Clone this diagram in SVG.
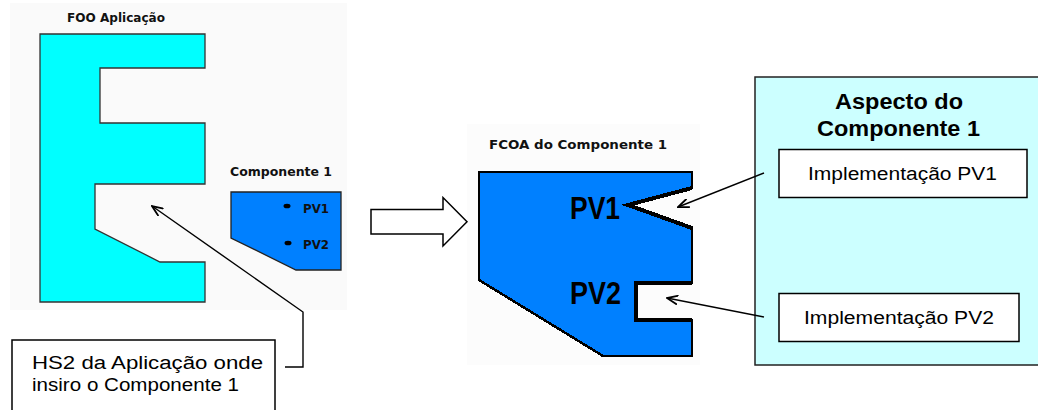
<svg xmlns="http://www.w3.org/2000/svg" width="1038" height="410" viewBox="0 0 1038 410">
<style>
.lbl{font-family:"DejaVu Sans",Verdana,sans-serif;font-weight:bold;font-size:12px;fill:#111}
.txt{font-family:"Liberation Sans",Arial,sans-serif;font-size:18px;fill:#000}
.bt{font-family:"Liberation Sans",Arial,sans-serif;font-size:22px;font-weight:bold;fill:#000}
.big{font-family:"Liberation Sans",Arial,sans-serif;font-size:31px;font-weight:bold;fill:#000}
.conn{fill:none;stroke:#000;stroke-width:1.4}
</style>
<defs>
<marker id="ah" viewBox="0 0 12 10" refX="11" refY="5" markerWidth="12" markerHeight="10" markerUnits="userSpaceOnUse" orient="auto">
<path d="M0,0.5 L11,5 L0,9.5" fill="none" stroke="#000" stroke-width="1.8"/>
</marker>
</defs>
<rect width="1038" height="410" fill="#fff"/>
<rect x="10" y="3" width="337" height="307" fill="#fafafa"/>
<rect x="467" y="124" width="233" height="241" fill="#fcfcfc"/>

<g id="foo-app">
<text class="lbl" x="67" y="22" textLength="98" lengthAdjust="spacingAndGlyphs">FOO Aplicação</text>
<polygon points="40,34 205,34 205,68 100,68 100,123 205,123 205,184 95,184 95,229 160,262 205,262 205,302 40,302" fill="#00ffff" stroke="#333" stroke-width="1.3"/>
</g>

<g id="componente1">
<text class="lbl" x="230" y="176" textLength="102" lengthAdjust="spacingAndGlyphs">Componente 1</text>
<polygon points="231,192 341,192 341,270 296,270 231,238" fill="#0080ff" stroke="#222" stroke-width="1.3"/>
<ellipse cx="287" cy="206" rx="3.5" ry="2.3" fill="#000"/>
<ellipse cx="288" cy="243" rx="3.5" ry="2.3" fill="#000"/>
<text class="lbl" x="303" y="212.5" style="font-size:11.5px" textLength="26" lengthAdjust="spacingAndGlyphs">PV1</text>
<text class="lbl" x="303" y="249" style="font-size:11.5px" textLength="26" lengthAdjust="spacingAndGlyphs">PV2</text>
</g>

<g id="hollow-arrow">
<polygon points="371,209.5 443,209.5 443,197.5 467,221.7 443,246 443,234 371,234" fill="#fff" stroke="#000" stroke-width="1.5"/>
</g>

<g id="fcoa">
<text class="lbl" x="489" y="149" textLength="178" lengthAdjust="spacingAndGlyphs">FCOA do Componente 1</text>
<polygon points="479,172 692,172 692,188 628,205 692,228 692,283 636,283 636,320 692,320 692,356 603,356 479,280" fill="#0080ff" stroke="#000" stroke-width="2.5" shape-rendering="crispEdges"/>
<polyline points="692,188 628,205 692,228" fill="none" stroke="#000" stroke-width="4" shape-rendering="crispEdges"/>
<polyline points="692,283 636,283 636,320 692,320" fill="none" stroke="#000" stroke-width="3.5" shape-rendering="crispEdges"/>
<text class="big" x="570" y="219" textLength="50" lengthAdjust="spacingAndGlyphs">PV1</text>
<text class="big" x="570" y="304" textLength="51" lengthAdjust="spacingAndGlyphs">PV2</text>
</g>

<g id="aspecto">
<rect x="755" y="77" width="290" height="288" fill="#ccffff" stroke="#222" stroke-width="1.5"/>
<text class="bt" x="835" y="109" textLength="128" lengthAdjust="spacingAndGlyphs">Aspecto do</text>
<text class="bt" x="817" y="136" textLength="163" lengthAdjust="spacingAndGlyphs">Componente 1</text>
</g>

<g id="impl-pv1">
<rect x="779" y="149.5" width="248" height="48" fill="#fff" stroke="#000" stroke-width="1.5"/>
<text class="txt" x="808" y="180" textLength="189" lengthAdjust="spacingAndGlyphs">Implementação PV1</text>
</g>

<g id="impl-pv2">
<rect x="779" y="293.5" width="240" height="48" fill="#fff" stroke="#000" stroke-width="1.5"/>
<text class="txt" x="804" y="324" textLength="190" lengthAdjust="spacingAndGlyphs">Implementação PV2</text>
</g>

<g id="hs2-note">
<rect x="12" y="340" width="263" height="85" fill="#fff" stroke="#000" stroke-width="1.5"/>
<text class="txt" x="32" y="369" textLength="231" lengthAdjust="spacingAndGlyphs">HS2 da Aplicação onde</text>
<text class="txt" x="32" y="391" textLength="207" lengthAdjust="spacingAndGlyphs">insiro o Componente 1</text>
</g>

<g id="connectors">
<polyline class="conn" points="285,367 303,367 303,312 152,206" marker-end="url(#ah)"/>
<line class="conn" x1="764" y1="173" x2="678" y2="207" marker-end="url(#ah)"/>
<line class="conn" x1="764" y1="317" x2="667" y2="298" marker-end="url(#ah)"/>
</g>
</svg>
